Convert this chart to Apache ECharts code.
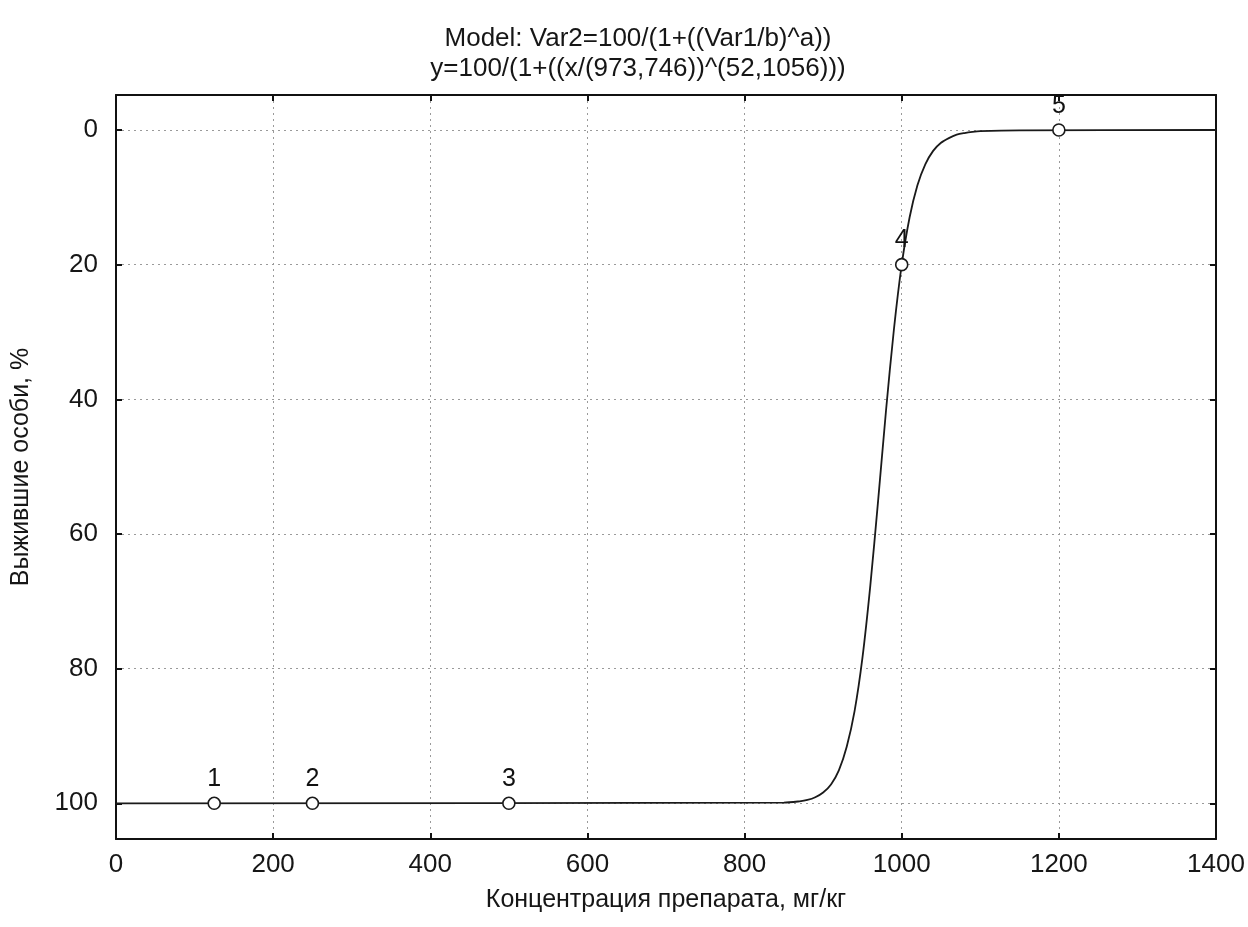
<!DOCTYPE html>
<html>
<head>
<meta charset="utf-8">
<script src="https://cdn.jsdelivr.net/npm/echarts@6/dist/echarts.min.js"></script>
<style>
html,body{margin:0;padding:0;background:#fff;}
#c{width:1248px;height:927px;}
</style>
</head>
<body>
<div id="c"></div>
<script>
// Observed points
const pointX = [125, 250, 500, 1000, 1200];
const pointY = [100, 100, 100, 20, 0];
const pointLabels = ['1', '2', '3', '4', '5'];

// Fitted curve
const curveX = [0, 850, 870, 880, 890, 900, 910, 920, 930, 940, 950, 960, 970, 980, 990, 1000, 1010, 1020, 1030, 1040, 1050, 1060, 1070, 1080, 1090, 1100, 1150, 1400];
const curveY = [100, 99.9, 99.7, 99.5, 99.1, 98.4, 97.2, 95.1, 91.6, 86.3, 78.4, 67.7, 55.0, 41.7, 29.7, 20.0, 13.0, 8.2, 5.1, 3.1, 1.9, 1.2, 0.7, 0.45, 0.28, 0.17, 0.05, 0];

const xTicks = [0, 200, 400, 600, 800, 1000, 1200, 1400];
const yTicks = [0, 20, 40, 60, 80, 100];

const titleLines = ['Model: Var2=100/(1+((Var1/b)^a))', 'y=100/(1+((x/(973,746))^(52,1056)))'];
const xName = 'Концентрация препарата, мг/кг';
const yName = 'Выжившие особи, %';

const FONT = '"Liberation Sans", Arial, sans-serif';
const TXT = '#161616';

const chart = echarts.init(document.getElementById('c'), null, {renderer: 'canvas'});

const gridLine = {show: true, lineStyle: {color: '#9a9a9a', type: [2, 4], width: 1}};
const frame = {show: true, onZero: false, lineStyle: {color: '#111', width: 2}};
const tick = {show: true, inside: true, length: 6, lineStyle: {color: '#111', width: 2}};

chart.setOption({
  backgroundColor: '#ffffff',
  animation: false,
  title: {
    text: titleLines.join('\n'),
    left: 633, top: 19, textAlign: 'center',
    textStyle: {fontFamily: FONT, fontSize: 26, fontWeight: 'normal', color: TXT, lineHeight: 30}
  },
  grid: {left: 116, right: 32, top: 95, bottom: 88, show: false},
  xAxis: [{
    type: 'value', min: 0, max: 1400, interval: 200,
    name: xName, nameLocation: 'middle', nameGap: 49,
    nameTextStyle: {fontFamily: FONT, fontSize: 25, color: TXT},
    axisLine: frame,
    axisTick: Object.assign({customValues: xTicks}, tick),
    axisLabel: {fontFamily: FONT, fontSize: 26, color: TXT, margin: 13, customValues: xTicks, formatter: v => String(v)},
    splitLine: gridLine
  }, {
    type: 'value', min: 0, max: 1400, interval: 200, position: 'top',
    axisLine: frame,
    axisTick: Object.assign({customValues: xTicks}, tick),
    axisLabel: {show: false, customValues: xTicks}, splitLine: {show: false}
  }],
  yAxis: [{
    type: 'value', min: -5.2, max: 105.3, inverse: true,
    name: yName, nameLocation: 'middle', nameGap: 82, nameRotate: 90,
    nameTextStyle: {fontFamily: FONT, fontSize: 25, color: TXT},
    axisLine: frame,
    axisTick: Object.assign({customValues: yTicks}, tick),
    axisLabel: {fontFamily: FONT, fontSize: 26, color: TXT, margin: 18, customValues: yTicks, formatter: v => String(v)},
    splitLine: gridLine
  }, {
    type: 'value', min: -5.2, max: 105.3, inverse: true, position: 'right',
    axisLine: frame,
    axisTick: Object.assign({customValues: yTicks}, tick),
    axisLabel: {show: false, customValues: yTicks}, splitLine: {show: false}
  }],
  series: [{
    type: 'line', xAxisIndex: 0, yAxisIndex: 0,
    data: curveX.map((x, i) => [x, curveY[i]]),
    smooth: 0.3, symbol: 'none',
    lineStyle: {color: '#1a1a1a', width: 1.8},
    z: 3
  }, {
    type: 'scatter', xAxisIndex: 0, yAxisIndex: 0,
    data: pointX.map((x, i) => ({value: [x, pointY[i]], name: pointLabels[i]})),
    symbol: 'circle', symbolSize: 12,
    itemStyle: {color: '#ffffff', borderColor: '#1a1a1a', borderWidth: 1.6, opacity: 1},
    label: {show: true, position: 'top', distance: 5, formatter: p => p.name,
      fontFamily: FONT, fontSize: 25, color: '#111', opacity: 1},
    emphasis: {disabled: true},
    z: 5
  }]
});
</script>
</body>
</html>
